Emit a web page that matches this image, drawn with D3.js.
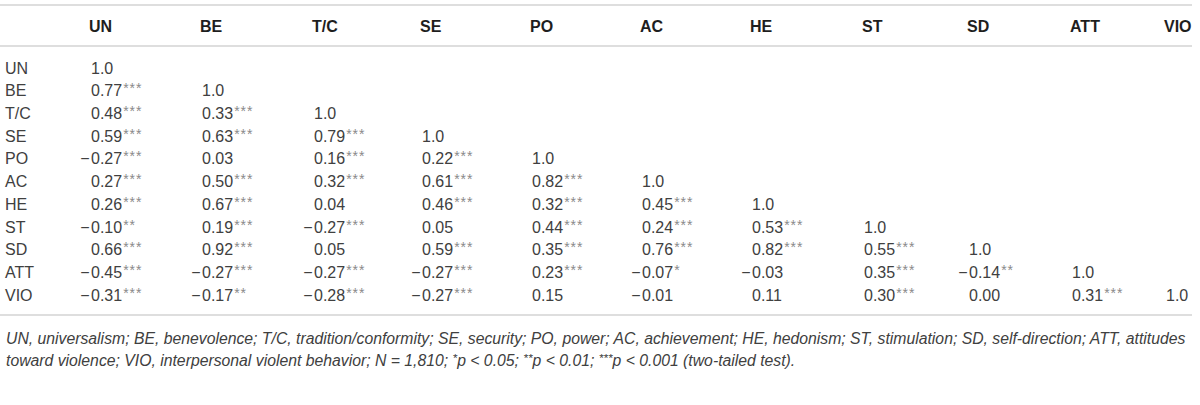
<!DOCTYPE html>
<html>
<head>
<meta charset="utf-8">
<script src="https://cdn.jsdelivr.net/npm/d3@7"></script>
<style>
  html, body { margin: 0; padding: 0; background: #fff; }
  svg { display: block; }
</style>
</head>
<body>
<div id="table"></div>
<script>
// Variables (rows and columns of the correlation matrix)
const rowLabels = ['UN', 'BE', 'T/C', 'SE', 'PO', 'AC', 'HE', 'ST', 'SD', 'ATT', 'VIO'];
const colLabels = ['UN', 'BE', 'T/C', 'SE', 'PO', 'AC', 'HE', 'ST', 'SD', 'ATT', 'VIO'];

// Lower triangle correlations, one array per row
const corrValues = [
    [1.0],
    [0.77, 1.0],
    [0.48, 0.33, 1.0],
    [0.59, 0.63, 0.79, 1.0],
    [-0.27, 0.03, 0.16, 0.22, 1.0],
    [0.27, 0.50, 0.32, 0.61, 0.82, 1.0],
    [0.26, 0.67, 0.04, 0.46, 0.32, 0.45, 1.0],
    [-0.10, 0.19, -0.27, 0.05, 0.44, 0.24, 0.53, 1.0],
    [0.66, 0.92, 0.05, 0.59, 0.35, 0.76, 0.82, 0.55, 1.0],
    [-0.45, -0.27, -0.27, -0.27, 0.23, -0.07, -0.03, 0.35, -0.14, 1.0],
    [-0.31, -0.17, -0.28, -0.27, 0.15, -0.01, 0.11, 0.30, 0.00, 0.31, 1.0]
];

// Number of significance stars for each cell
const sigStars = [
    [0],
    [3, 0],
    [3, 3, 0],
    [3, 3, 3, 0],
    [3, 0, 3, 3, 0],
    [3, 3, 3, 3, 3, 0],
    [3, 3, 0, 3, 3, 3, 0],
    [2, 3, 3, 0, 3, 3, 3, 0],
    [3, 3, 0, 3, 3, 3, 3, 3, 0],
    [3, 3, 3, 3, 3, 1, 0, 3, 2, 0],
    [3, 2, 3, 3, 0, 0, 0, 3, 0, 3, 0]
];

const footLine1 = 'UN, universalism; BE, benevolence; T/C, tradition/conformity; SE, security; PO, power; AC, achievement; HE, hedonism; ST, stimulation; SD, self-direction; ATT, attitudes';
// second line split so the stars can be raised
const footLine2 = [
    { t: 'toward violence; VIO, interpersonal violent behavior; N = 1,810; ' },
    { t: '*', sup: true }, { t: 'p < 0.05; ' },
    { t: '**', sup: true }, { t: 'p < 0.01; ' },
    { t: '***', sup: true }, { t: 'p < 0.001 (two-tailed test).' }
];

// layout
const width = 1200;
const height = 405;
const colX = [91, 202, 314, 422, 532, 642, 752, 864, 969, 1072, 1166];
const bodyFont = '"Liberation Sans", Arial, Helvetica, sans-serif';
const textColor = '#404040';

const svg = d3.select('#table').append('svg')
    .attr('width', width)
    .attr('height', height);

const x = d3.scaleOrdinal().domain(colLabels).range(colX);
const y = d3.scalePoint().domain(rowLabels).range([68, 295]);

// rules
const rules = [5, 46, 315];
svg.selectAll('line.rule')
    .data(rules)
    .enter().append('line')
    .attr('class', 'rule')
    .attr('x1', 0)
    .attr('x2', 1192)
    .attr('y1', d => d)
    .attr('y2', d => d)
    .attr('stroke', '#dedede')
    .attr('stroke-width', 2);

// header
svg.selectAll('text.head')
    .data(colLabels)
    .enter().append('text')
    .attr('class', 'head')
    .attr('x', d => x(d) - 2)
    .attr('y', 26)
    .attr('dy', '0.35em')
    .text(d => d)
    .style('font-family', bodyFont)
    .style('font-size', '16px')
    .style('font-weight', 'bold')
    .style('fill', '#1e1e1e');

// row labels
svg.selectAll('text.rowlab')
    .data(rowLabels)
    .enter().append('text')
    .attr('class', 'rowlab')
    .attr('x', 5)
    .attr('y', d => y(d))
    .attr('dy', '0.35em')
    .text(d => d)
    .style('font-family', bodyFont)
    .style('font-size', '16px')
    .style('fill', textColor);

// cells
const cells = [];
corrValues.forEach((row, i) => {
    row.forEach((v, j) => {
        cells.push({ row: rowLabels[i], col: colLabels[j], value: v, stars: sigStars[i][j] });
    });
});

const fmt = v => v === 1 ? '1.0' : d3.format('.2f')(Math.abs(v));

const cellG = svg.selectAll('g.cell')
    .data(cells)
    .enter().append('g')
    .attr('class', 'cell')
    .attr('transform', d => `translate(${x(d.col)},${y(d.row)})`);

// minus sign hangs left of the digits
cellG.filter(d => d.value < 0)
    .append('text')
    .attr('x', -1.5)
    .attr('dy', '0.35em')
    .attr('text-anchor', 'end')
    .text('\u2212')
    .style('font-family', bodyFont)
    .style('font-size', '16px')
    .style('fill', textColor);

const valText = cellG.append('text')
    .attr('dy', '0.35em')
    .style('font-family', bodyFont)
    .style('font-size', '16px')
    .style('fill', textColor);

valText.append('tspan').text(d => fmt(d.value));
valText.filter(d => d.stars > 0)
    .append('tspan')
    .attr('dx', 1)
    .attr('dy', -3)
    .text(d => '*'.repeat(d.stars))
    .style('font-size', '14px')
    .style('letter-spacing', '1px')
    .style('fill', '#8a8a8a');

// footnote
const foot = svg.append('g')
    .style('font-family', bodyFont)
    .style('font-style', 'italic')
    .style('fill', textColor);

const f1 = foot.append('text')
    .attr('x', 6)
    .attr('y', 338)
    .attr('dy', '0.35em')
    .style('font-size', '16px')
    .text(footLine1);

// scale the footnote font so line one fills the table width
const len = f1.node().getComputedTextLength();
const footSize = 16 * 1181 / len;
f1.style('font-size', footSize + 'px');

const f2 = foot.append('text')
    .attr('x', 6)
    .attr('y', 360)
    .attr('dy', '0.35em')
    .style('font-size', footSize + 'px');

footLine2.forEach((p, i) => {
    const prevSup = i > 0 && footLine2[i - 1].sup;
    const ts = f2.append('tspan').text(p.t);
    if (p.sup) {
        ts.attr('dy', -4).style('font-size', (footSize * 0.75) + 'px');
    } else if (prevSup) {
        ts.attr('dy', 4);
    }
});
</script>
</body>
</html>
